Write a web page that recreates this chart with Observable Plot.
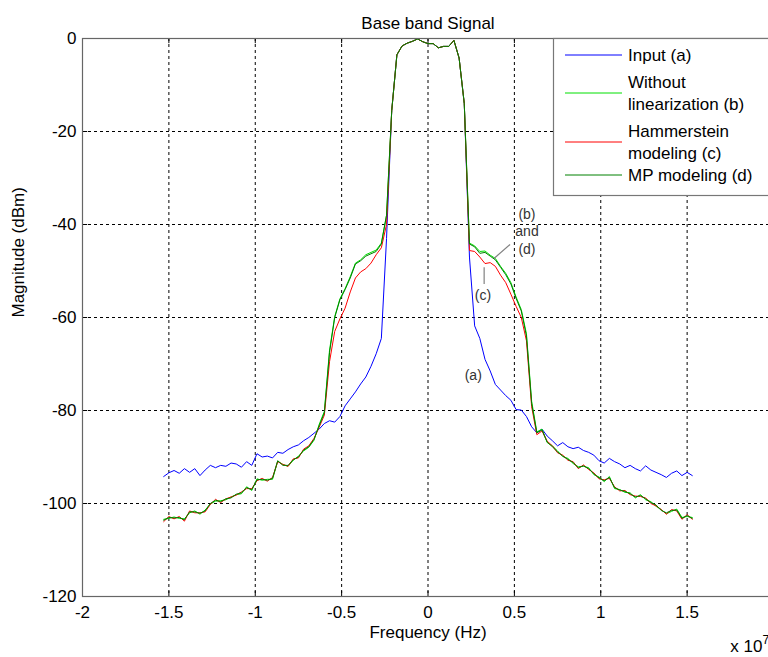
<!DOCTYPE html>
<html><head><meta charset="utf-8">
<script src="https://cdn.jsdelivr.net/npm/d3@7"></script>
<script src="https://cdn.jsdelivr.net/npm/@observablehq/plot@0.6"></script>
<style>
html,body{margin:0;padding:0;background:#fff;overflow:hidden;}
#chart{width:768px;height:657px;overflow:hidden;position:relative;}
#chart svg{display:block;max-width:none !important;width:790px !important;height:657px !important;}
</style></head><body><div id="chart"></div>
<script>
// Frequency in units of 1e7 Hz
const freq = [-1.53,-1.50,-1.47,-1.44,-1.41,-1.38,-1.35,-1.32,-1.29,-1.26,-1.23,-1.20,-1.17,-1.14,-1.11,-1.08,-1.05,-1.02,-0.99,-0.96,-0.93,-0.90,-0.87,-0.84,-0.81,-0.78,-0.75,-0.72,-0.69,-0.66,-0.63,-0.60,-0.57,-0.54,-0.51,-0.48,-0.45,-0.42,-0.39,-0.36,-0.33,-0.30,-0.27,-0.24,-0.21,-0.18,-0.15,-0.12,-0.09,-0.06,-0.03,0,0.03,0.06,0.09,0.12,0.15,0.18,0.21,0.24,0.27,0.30,0.33,0.36,0.39,0.42,0.45,0.48,0.51,0.54,0.57,0.60,0.63,0.66,0.69,0.72,0.75,0.78,0.81,0.84,0.87,0.90,0.93,0.96,0.99,1.02,1.05,1.08,1.11,1.14,1.17,1.20,1.23,1.26,1.29,1.32,1.35,1.38,1.41,1.44,1.47,1.50,1.53];

const inputA = [
-94.2,-93.4,-92.9,-93.5,-92.5,-93.3,-92.5,-94.0,-92.8,-91.8,
-92.3,-91.8,-92.0,-91.3,-91.5,-92.2,-91.0,-91.8,-89.3,-90.0,
-89.8,-90.2,-89.0,-89.2,-88.4,-87.8,-87.4,-86.5,-85.8,-84.9,
-84.0,-82.8,-82.2,-82.5,-81.3,-79.0,-77.5,-76.0,-74.3,-72.8,
-70.5,-67.8,-64.5,-43.0,-15.5,-3.5,-1.6,-1.0,-0.6,-0.1,
-0.7,-1.1,-1.1,-2.0,-1.7,-1.7,-0.4,-4.2,-14.0,-47.0,
-61.8,-64.5,-69.0,-71.5,-74.4,-75.6,-76.8,-77.8,-79.8,-79.9,
-81.3,-83.5,-84.8,-84.0,-85.5,-86.5,-87.6,-86.9,-87.8,-88.2,
-87.9,-88.6,-89.0,-89.6,-90.8,-91.3,-90.3,-91.0,-91.5,-92.3,
-91.8,-92.5,-93.0,-91.9,-92.8,-93.3,-93.8,-94.4,-93.5,-93.0,
-94.0,-93.3,-94.0];

const withoutB = [
-103.4,-103.2,-102.9,-103.2,-103.3,-102.0,-101.6,-102.3,-101.4,-100.1,
-99.5,-99.4,-99.2,-98.6,-98.1,-97.9,-96.4,-97.2,-94.7,-95.0,
-94.8,-94.8,-90.9,-91.6,-92.0,-90.7,-89.8,-88.7,-87.9,-86.4,
-83.0,-80.2,-67.0,-59.8,-56.0,-53.8,-51.2,-48.3,-47.6,-46.5,
-46.0,-45.5,-44.0,-38.0,-15.5,-3.5,-1.6,-1.0,-0.6,-0.1,
-0.7,-1.1,-1.1,-2.0,-1.7,-1.7,-0.4,-4.2,-14.0,-44.0,
-44.6,-45.8,-45.7,-46.6,-47.3,-49.0,-50.5,-52.5,-55.6,-58.3,
-63.5,-78.0,-84.6,-84.0,-86.9,-87.6,-88.7,-89.9,-90.3,-91.4,
-92.1,-92.0,-92.3,-93.8,-94.3,-95.3,-94.2,-96.8,-97.0,-97.6,
-97.7,-98.8,-98.1,-99.2,-99.6,-100.6,-101.3,-102.2,-101.7,-101.2,
-103.0,-102.8,-103.0];

const hammersteinC = [
-103.9,-102.8,-103.3,-102.8,-103.8,-101.6,-102.0,-102.0,-101.8,-100.2,
-99.1,-99.8,-99.0,-98.6,-98.2,-97.5,-96.8,-96.8,-95.1,-94.6,
-95.2,-94.4,-91.0,-91.6,-92.0,-90.4,-90.2,-88.3,-87.6,-86.0,
-83.6,-81.0,-69.5,-63.0,-60.3,-58.0,-54.5,-51.5,-50.2,-49.5,
-48.3,-46.5,-45.0,-40.0,-15.5,-3.5,-1.6,-1.0,-0.6,-0.1,
-0.7,-1.1,-1.1,-2.0,-1.7,-1.7,-0.4,-4.2,-14.0,-45.6,
-45.8,-47.0,-48.4,-48.2,-49.0,-50.9,-52.5,-55.0,-57.6,-60.0,
-65.0,-79.2,-85.2,-84.4,-86.6,-87.6,-89.1,-89.6,-90.7,-91.0,
-92.5,-91.7,-92.7,-93.4,-94.7,-94.9,-94.6,-96.4,-97.3,-97.2,
-98.1,-98.4,-98.5,-98.8,-100.0,-100.5,-101.3,-102.3,-101.3,-101.6,
-103.4,-102.4,-103.4];

const mpD = [
-103.6,-103.0,-103.1,-103.0,-103.5,-101.8,-101.8,-102.1,-101.6,-100.0,
-99.3,-99.6,-99.0,-98.8,-98.0,-97.7,-96.6,-97.0,-94.9,-94.8,
-95.0,-94.6,-90.8,-91.8,-91.8,-90.6,-90.0,-88.5,-87.8,-86.2,
-83.3,-80.5,-67.5,-60.0,-56.2,-54.0,-51.5,-48.5,-47.8,-46.8,
-46.3,-45.8,-44.2,-38.0,-15.5,-3.5,-1.6,-1.0,-0.6,-0.1,
-0.7,-1.1,-1.1,-2.0,-1.7,-1.7,-0.4,-4.2,-14.0,-44.2,
-44.8,-46.2,-46.0,-46.8,-47.6,-49.2,-50.8,-52.8,-55.9,-58.6,
-64.0,-78.5,-84.8,-84.2,-86.8,-87.8,-88.9,-89.8,-90.5,-91.2,
-92.3,-91.9,-92.5,-93.6,-94.5,-95.1,-94.4,-96.6,-97.1,-97.4,
-97.9,-98.6,-98.3,-99.0,-99.8,-100.3,-101.5,-102.0,-101.5,-101.4,
-103.2,-102.6,-103.2];

const seriesLabels = [["Input (a)"], ["Without", "linearization (b)"], ["Hammerstein", "modeling (c)"], ["MP modeling (d)"]];
const seriesColors = ["#0000ff", "#00e000", "#ff0000", "#008000"];
const seriesValues = [inputA, withoutB, hammersteinC, mpD];

const xTicks = [-2, -1.5, -1, -0.5, 0, 0.5, 1, 1.5, 2];
const yTicks = [0, -20, -40, -60, -80, -100, -120];

const titleText = "Base band Signal";
const xLabel = "Frequency (Hz)";
const yLabel = "Magnitude (dBm)";
const annotations = [
  {t: "(b)", f: 0.573, db: -37.8},
  {t: "and", f: 0.573, db: -41.5},
  {t: "(d)", f: 0.573, db: -45.4},
  {t: "(c)", f: 0.318, db: -55.3},
  {t: "(a)", f: 0.262, db: -72.5}
];
const leaders = [
  {f1: 0.475, d1: -44.3, f2: 0.382, d2: -47.3},
  {f1: 0.325, d1: -49.2, f2: 0.325, d2: -52.8}
];

const font = "'Liberation Sans', Arial, Helvetica, sans-serif";

const lineMarks = seriesValues.map((vals, s) =>
  Plot.line(vals.map((v, i) => ({f: freq[i], db: v})), {x: "f", y: "db", stroke: seriesColors[s], strokeWidth: 1})
);

const chart = Plot.plot({
  width: 790, height: 657,
  marginLeft: 82, marginRight: 17, marginTop: 38, marginBottom: 61,
  style: {fontFamily: font, fontSize: "17px", color: "#000", background: "#fff", overflow: "visible"},
  x: {domain: [-2, 2]},
  y: {domain: [-120, 0]},
  marks: [
    Plot.gridX(xTicks.slice(1, -1), {stroke: "#000", strokeOpacity: 1, strokeDasharray: "3,3", strokeWidth: 1}),
    Plot.gridY(yTicks.slice(1, -1), {stroke: "#000", strokeOpacity: 1, strokeDasharray: "3,3", strokeWidth: 1}),
    Plot.axisX(xTicks, {tickSize: 0, tickPadding: 9, tickFormat: d => String(d), label: null, fontSize: 17}),
    Plot.axisY(yTicks, {tickSize: 0, tickPadding: 6, tickFormat: d => String(d), label: null, fontSize: 17}),
    Plot.ruleX(xTicks, {x: d => d, y1: -120, y2: -118.9, stroke: "#000"}),
    Plot.ruleX(xTicks, {x: d => d, y1: 0, y2: -1.1, stroke: "#000"}),
    Plot.ruleY(yTicks, {y: d => d, x1: -2, x2: -1.97, stroke: "#000"}),
    ...lineMarks,
    Plot.link(leaders, {x1: "f1", y1: "d1", x2: "f2", y2: "d2", stroke: "#808080", strokeWidth: 1.2}),
    Plot.text(annotations, {x: "f", y: "db", text: "t", fontSize: 14, fill: "#333"}),
    Plot.frame({stroke: "#666", strokeWidth: 1.2}),
    Plot.text([titleText], {frameAnchor: "top", dy: -22, fontSize: 17}),
    Plot.text([xLabel], {frameAnchor: "bottom", dy: 41, fontSize: 17}),
    Plot.text([yLabel], {frameAnchor: "left", dx: -64, rotate: -90, fontSize: 17}),
    Plot.text(["x 10"], {frameAnchor: "bottom-right", textAnchor: "end", dx: -11, dy: 55, fontSize: 17}),
    Plot.text(["7"], {frameAnchor: "bottom-right", textAnchor: "start", dx: -11, dy: 47, fontSize: 12})
  ]
});

// Legend box (inside axes, upper right)
const svg = d3.select(chart);
const lg = svg.append("g").attr("font-family", font).attr("font-size", 17).attr("text-anchor", "start");
lg.append("rect").attr("x", 553.5).attr("y", 38.5).attr("width", 240).attr("height", 157)
  .attr("fill", "#fff").attr("stroke", "#777").attr("stroke-width", 1.2);
const lineYs = [55, 93, 142, 175];
const textYs = [[55], [82, 104.5], [131, 153], [175]];
seriesLabels.forEach((lines, s) => {
  lg.append("line").attr("x1", 565).attr("x2", 622).attr("y1", lineYs[s]).attr("y2", lineYs[s])
    .attr("stroke", seriesColors[s]).attr("stroke-width", 1);
  lines.forEach((t, k) => {
    lg.append("text").attr("x", 628).attr("y", textYs[s][k]).attr("dy", "0.35em")
      .attr("text-anchor", "start").attr("fill", "#000").text(t);
  });
});

document.getElementById("chart").appendChild(chart);
</script>
</body></html>
